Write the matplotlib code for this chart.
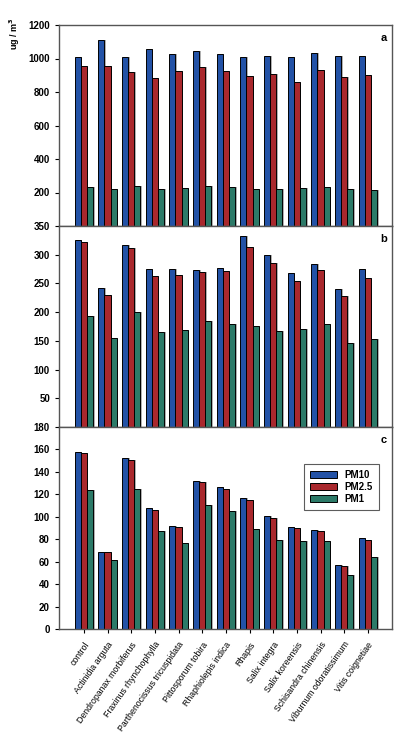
import numpy as np
import matplotlib
matplotlib.use("Agg")
import matplotlib.pyplot as plt

plt.rcParams['font.family'] = ['Liberation Sans', 'DejaVu Sans']
plt.rcParams['font.weight'] = 'bold'

species = ["control", "Actinidia arguta", "Dendropanax morbiferus",
           "Fraxinus rhynchophylla", "Parthenocissus tricuspidata",
           "Pittosporum tobira", "Rhaphiolepis indica", "Rhapis",
           "Salix integra", "Salix koreensis", "Schisandra chinensis",
           "Viburnum odoratissimum", "Vitis coignetiae"]
series = ["PM10", "PM2.5", "PM1"]

# panel a
a_pm10 = [1010, 1108, 1006, 1054, 1024, 1042, 1026, 1008, 1012, 1008, 1030, 1012, 1016]
a_pm25 = [954, 958, 922, 884, 926, 952, 926, 898, 906, 858, 930, 892, 900]
a_pm1 = [232, 220, 238, 222, 226, 236, 232, 222, 220, 224, 232, 222, 214]
# panel b
b_pm10 = [325, 241.5, 317, 274.6, 275.8, 273.4, 277.5, 332, 299.5, 267.6, 283.3, 240.4, 274.6]
b_pm25 = [321.6, 230.5, 311.7, 263.6, 265.3, 270, 271.7, 314, 285, 254.9, 273.4, 227.6, 260]
b_pm1 = [193.4, 155, 199.8, 165.5, 169, 184.7, 179, 175.4, 166.7, 170, 179.5, 145.8, 153.4]
# panel c
c_pm10 = [157.6, 68.8, 152, 107.6, 91.8, 131.7, 126.6, 117, 100.7, 90.9, 87.9, 57, 81]
c_pm25 = [156.7, 68.5, 150.5, 105.8, 90.9, 131.1, 125.1, 114.7, 98.9, 89.7, 87, 56.3, 79.6]
c_pm1 = [124, 61.1, 125.1, 87.6, 76.6, 110.5, 105.2, 89.1, 79.3, 78.7, 78.1, 48.3, 64.1]

ylims = [1200, 350, 180]
yticks = [np.arange(200, 1201, 200), np.arange(50, 351, 50), np.arange(0, 181, 20)]
panels = [(a_pm10, a_pm25, a_pm1), (b_pm10, b_pm25, b_pm1), (c_pm10, c_pm25, c_pm1)]
letters = ["a", "b", "c"]
colors = ["#2352a6", "#a9282d", "#2c7a68"]

W, H = 409, 734
fig = plt.figure(figsize=(W / 100, H / 100), dpi=100)

left, right = 59 / W, 392 / W
tops = [25, 226, 427]
bots = [226, 427, 629]

x = np.arange(len(species))
bw = 0.26
for i in range(3):
    ax = fig.add_axes([left, 1 - bots[i] / H, right - left, (bots[i] - tops[i]) / H])
    for j, vals in enumerate(panels[i]):
        xs = x + (j - 1) * bw
        # grey drop shadow
        ax.bar(xs + 0.06, vals, bw, color="#b0b0b0", zorder=1)
        ax.bar(xs, vals, bw, color=colors[j], edgecolor="black", linewidth=0.7,
               zorder=2, label=series[j])
    ax.set_xlim(-1.05, 13.02)
    ax.set_ylim(0, ylims[i])
    ax.set_yticks(yticks[i])
    ax.tick_params(axis='y', labelsize=7, length=3, width=0.8)
    ax.tick_params(axis='x', length=3, width=0.8)
    ax.set_xticks(x)
    for s in ax.spines.values():
        s.set_color("#555555")
        s.set_linewidth(1)
    ax.text(0.985, 0.96, letters[i], transform=ax.transAxes, ha='right', va='top',
            fontsize=8, fontweight='bold')
    if i < 2:
        ax.set_xticklabels([])
    else:
        ax.set_xticklabels(species, rotation=55, ha='right', rotation_mode='anchor',
                           fontsize=6.3, fontweight='normal')
        ax.tick_params(axis='x', pad=5)
        leg = ax.legend(loc='upper right', bbox_to_anchor=(0.975, 0.84), fontsize=7,
                        frameon=True, fancybox=False, edgecolor="#333333",
                        handlelength=2.8, handleheight=0.8, borderpad=0.6,
                        labelspacing=0.2, handles=ax.containers[1::2])
        leg.get_frame().set_linewidth(0.8)

fig.text(15 / W, 1 - 34 / H, "ug / m$^3$", rotation=90, ha='center', va='center',
         fontsize=6.5, fontweight='bold')

fig.savefig("out.png", dpi=100, facecolor="white")
